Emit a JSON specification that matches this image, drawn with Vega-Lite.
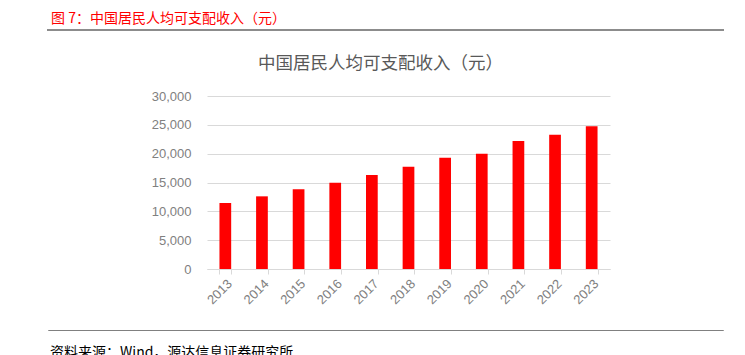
{
  "$schema": "https://vega.github.io/schema/vega-lite/v6.json",
  "background": "white",
  "padding": {"left": 47, "top": 11, "right": 0, "bottom": 0},
  "autosize": {"type": "pad"},
  "config": {"view": {"stroke": null}, "font": "Noto Sans CJK SC"},
  "datasets": {
    "income": [
      {"year": "2013", "income": 11445},
      {"year": "2014", "income": 12600},
      {"year": "2015", "income": 13820},
      {"year": "2016", "income": 14970},
      {"year": "2017", "income": 16300},
      {"year": "2018", "income": 17740},
      {"year": "2019", "income": 19300},
      {"year": "2020", "income": 20000},
      {"year": "2021", "income": 22200},
      {"year": "2022", "income": 23290},
      {"year": "2023", "income": 24750}
    ]
  },
  "spacing": 22,
  "align": "none",
  "vconcat": [
    {
      "width": 675,
      "height": 0.01,
      "title": {"text": "图 7：中国居民人均可支配收入（元）", "anchor": "start", "color": "#ff0000", "fontSize": 14, "fontWeight": "normal", "font": "Noto Sans CJK SC", "offset": 4, "dx": 3},
      "data": {"values": []},
      "mark": "rule",
      "encoding": {},
      "view": {"stroke": "#8c8c8c", "strokeWidth": 2}
    },
    {
      "spacing": 0,
      "hconcat": [
        {
          "width": 103,
          "height": 0.01,
          "data": {"values": []},
          "mark": "rule",
          "encoding": {}
        },
        {
          "width": 403,
          "height": 173,
          "title": {"text": "中国居民人均可支配收入（元）", "fontSize": 17.5, "color": "#595959", "fontWeight": "normal", "font": "Noto Sans CJK SC", "offset": 18, "frame": "bounds"},
          "data": {"name": "income"},
          "mark": {"type": "bar", "color": "#ff0000"},
          "encoding": {
            "x": {
              "field": "year",
              "type": "ordinal",
              "scale": {"paddingInner": 0.68, "paddingOuter": 0.34},
              "axis": {"title": null, "labelAngle": -45, "tickBand": "extent", "domainColor": "#d9d9d9", "tickColor": "#d9d9d9", "tickSize": 5, "labelColor": "#808080", "labelFontSize": 13, "labelFont": "Liberation Sans", "labelPadding": 3}
            },
            "y": {
              "field": "income",
              "type": "quantitative",
              "scale": {"domain": [0, 30000]},
              "axis": {"title": null, "values": [0, 5000, 10000, 15000, 20000, 25000, 30000], "format": ",.0f", "domain": false, "ticks": false, "gridColor": "#d9d9d9", "labelColor": "#808080", "labelFontSize": 13, "labelFont": "Liberation Sans", "labelPadding": 16}
            }
          }
        }
      ]
    },
    {
      "width": 675,
      "height": 0.01,
      "title": {"text": "资料来源：Wind，源达信息证券研究所", "orient": "bottom", "anchor": "start", "color": "#000000", "fontSize": 14, "fontWeight": "normal", "font": "Noto Sans CJK SC", "offset": 16, "dx": 2},
      "data": {"values": []},
      "mark": "rule",
      "encoding": {},
      "view": {"stroke": "#808080", "strokeWidth": 1}
    }
  ]
}
